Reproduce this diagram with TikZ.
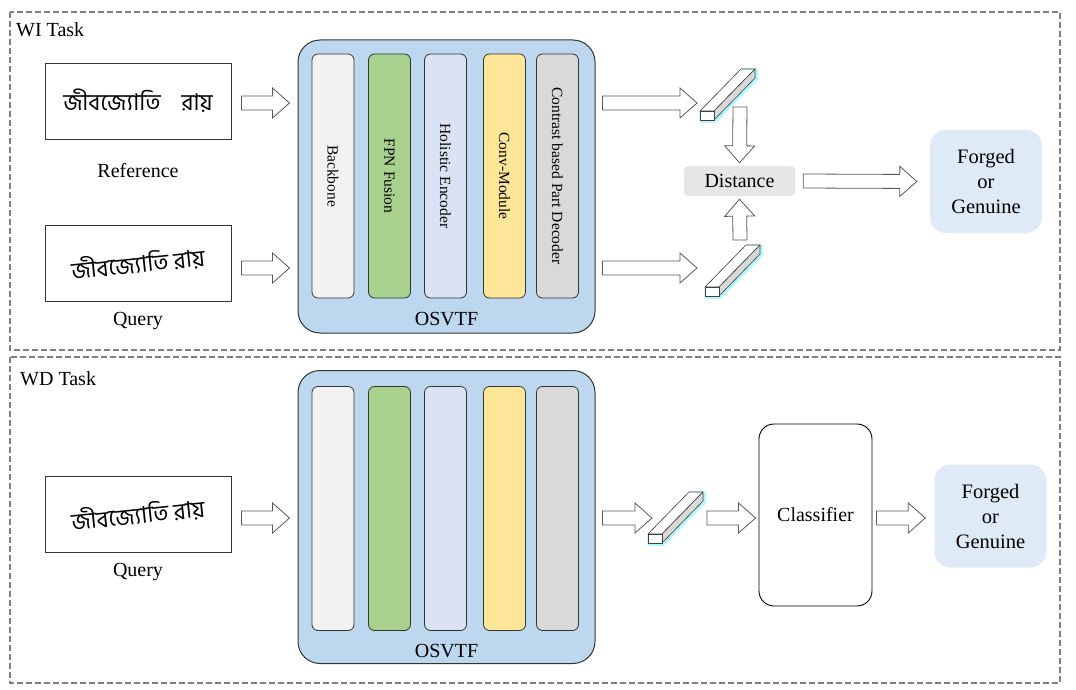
\documentclass[tikz,border=0pt]{standalone}
\usepackage{fontspec}
\setmainfont{Liberation Serif}
\newfontfamily\bengfont[Script=Bengali]{Hind Siliguri}
\usepackage{tikz}
\usetikzlibrary{positioning,calc}
\usepackage{xcolor}
\definecolor{bbcolor}{HTML}{F2F2F2}
\definecolor{fpncolor}{HTML}{A9D18E}
\definecolor{hecolor}{HTML}{DAE3F3}
\definecolor{cmcolor}{HTML}{FFE699}
\definecolor{pdcolor}{HTML}{D9D9D9}
\definecolor{osvcolor}{HTML}{BDD7EE}
\definecolor{distcolor}{HTML}{E7E6E6}
\definecolor{outcolor}{HTML}{DEEBF7}
\definecolor{arrowgray}{HTML}{595959}
\definecolor{taskgray}{HTML}{7F7F7F}
\definecolor{glowcolor}{HTML}{8FF3FF}

% feature vector cuboid: #1 name, (#2,#3) lower left corner of front face
\newcommand{\featbar}[3]{%
  \begin{scope}[shift={(#2,#3)}]
    \draw[glowcolor, line width=3.5pt, line join=round, opacity=0.7]
      (1,1) -- (15,1) -- (56,-41) -- (56,-50) -- (42,-50) -- (1,-8) -- cycle;
    \draw[cubeedge, fill=white] (0,-9) -- (14,-9) -- (55,-51) -- (41,-51) -- cycle;
    \draw[cubeedge, fill=pdcolor] (14,0) -- (55,-42) -- (55,-51) -- (14,-9) -- cycle;
    \draw[cubeedge, fill=white] (0,0) rectangle (14,-9);
    \coordinate (#1) at (27,-25);
  \end{scope}}

\begin{document}
\begin{tikzpicture}[
    x=1pt, y=-1pt,
    lbl/.style={inner sep=0pt, text height=14pt, text depth=4pt, font=\fontsize{20}{24}\selectfont},
    sigbox/.style={draw=black!80, line width=0.9pt, minimum width=186pt, minimum height=76pt, font=\bengfont\fontsize{23}{26}\selectfont},
    osvbox/.style={draw=black!80, line width=1pt, fill=osvcolor, rounded corners=22pt, minimum width=297pt, minimum height=293pt},
    modbar/.style={draw=black!80, line width=0.8pt, rounded corners=6pt, rotate=-90, minimum width=244pt, minimum height=42pt, inner sep=0pt, font=\fontsize{15.5}{18}\selectfont},
    outbox/.style={fill=outcolor, rounded corners=16pt, minimum width=112pt, minimum height=103pt, align=center, font=\fontsize{20.5}{25}\selectfont},
    cubeedge/.style={draw=black!75, line width=0.6pt, line join=round},
    tasks/.style={draw=taskgray, line width=1.2pt, dash pattern=on 6pt off 3pt},
    hollow/.style={draw=arrowgray, fill=white, line width=0.8pt, line join=miter, to path={
        ($(\tikztostart)!7pt!90:(\tikztotarget)$)
        -- ($($(\tikztotarget)!17pt!(\tikztostart)$)!7pt!90:(\tikztotarget)$)
        -- ($($(\tikztotarget)!17pt!(\tikztostart)$)!15pt!90:(\tikztotarget)$)
        -- (\tikztotarget)
        -- ($($(\tikztotarget)!17pt!(\tikztostart)$)!15pt!-90:(\tikztotarget)$)
        -- ($($(\tikztotarget)!17pt!(\tikztostart)$)!7pt!-90:(\tikztotarget)$)
        -- ($(\tikztostart)!7pt!-90:(\tikztotarget)$) -- cycle}}
]
    \useasboundingbox (0,0) rectangle (1076,690);

    % Task frames
    \draw[tasks] (10,12) rectangle (1060,350);
    \draw[tasks] (10,357) rectangle (1060,683);
    \node[lbl, anchor=base west] (wi-title) at (16,37) {WI Task};
    \node[lbl, anchor=base west] (wd-title) at (20,385) {WD Task};

    % Signature images
    \node[sigbox] (ref) at (138,101) {জীবজ্যোতি\hspace{0.9em}রায়};
    \node[sigbox] (qry) at (138,263) {\rotatebox{6}{জীবজ্যোতি রায়}};
    \node[sigbox] (qry2) at (138,514) {\rotatebox{6}{জীবজ্যোতি রায়}};
    \node[lbl, below=24pt of ref] (ref-lbl) {Reference};
    \node[lbl, below=10pt of qry] (qry-lbl) {Query};
    \node[lbl, below=10pt of qry2] (qry2-lbl) {Query};

    % OSVTF blocks
    \node[osvbox] (wi-osv) at (446.5,186.5) {};
    \node[osvbox] (wd-osv) at (446.5,517) {};
    \node[lbl, anchor=base] (wi-osv-lbl) at ($(wi-osv.south)+(0,-8)$) {OSVTF};
    \node[lbl, anchor=base] (wd-osv-lbl) at ($(wd-osv.south)+(0,-7)$) {OSVTF};

    \foreach \n/\cx/\col/\txt in {bb/333/bbcolor/Backbone, fpn/389.5/fpncolor/FPN Fusion,
        he/445.5/hecolor/Holistic Encoder, cm/504.5/cmcolor/Conv-Module,
        pd/557.5/pdcolor/Contrast based Part Decoder} {
        \node[modbar, fill=\col] (wi-\n) at (\cx,176) {\txt};
        \node[modbar, fill=\col] (wd-\n) at (\cx,508.5) {};
    }

    % Feature vectors
    \featbar{fa}{700}{120}
    \featbar{fb}{705}{296}
    \featbar{fc}{648}{543}
    \coordinate (fa-in) at (697,103);
    \coordinate (fa-out) at (740,107);
    \coordinate (fb-in) at (697,268);
    \coordinate (fb-out) at (740,240);
    \coordinate (fc-in) at (652,518);
    \coordinate (fc-out) at (707,518);

    % Distance, classifier and outputs
    \node[fill=distcolor, rounded corners=4pt, minimum width=111pt, minimum height=30pt, font=\fontsize{20}{24}\selectfont] (dist) at (739.5,181) {Distance};
    \node[outbox] (wi-out) at (986,181.5) {Forged\\or\\Genuine};
    \node[draw=black, line width=0.9pt, rounded corners=15pt, minimum width=113pt, minimum height=182pt, font=\fontsize{20}{24}\selectfont] (cls) at (815.5,515) {Classifier};
    \node[outbox] (wd-out) at (990.5,516) {Forged\\or\\Genuine};

    % WI arrows
    \draw[hollow] ($(ref.east)+(10,2)$) to ($(ref.east -| wi-osv.west)+(-8,2)$);
    \draw[hollow] ($(qry.east)+(10,5)$) to ($(qry.east -| wi-osv.west)+(-8,5)$);
    \draw[hollow] ($(ref.east -| wi-osv.east)+(7,2)$) to (fa-in);
    \draw[hollow] ($(qry.east -| wi-osv.east)+(7,5)$) to (fb-in);
    \draw[hollow] (fa-out) to ($(dist.north)+(0,-3)$);
    \draw[hollow] (fb-out) to ($(dist.south)+(0,3)$);
    \draw[hollow] ($(dist.east)+(8,0)$) to ($(wi-out.west)+(-13,0)$);

    % WD arrows
    \draw[hollow] ($(qry2.east)+(10,4)$) to ($(qry2.east -| wd-osv.west)+(-8,4)$);
    \draw[hollow] ($(qry2.east -| wd-osv.east)+(7,4)$) to (fc-in);
    \draw[hollow] (fc-out) to ($(cls.west)+(-3,3)$);
    \draw[hollow] ($(cls.east)+(4,3)$) to ($(wd-out.west)+(-9,2)$);
\end{tikzpicture}
\end{document}
